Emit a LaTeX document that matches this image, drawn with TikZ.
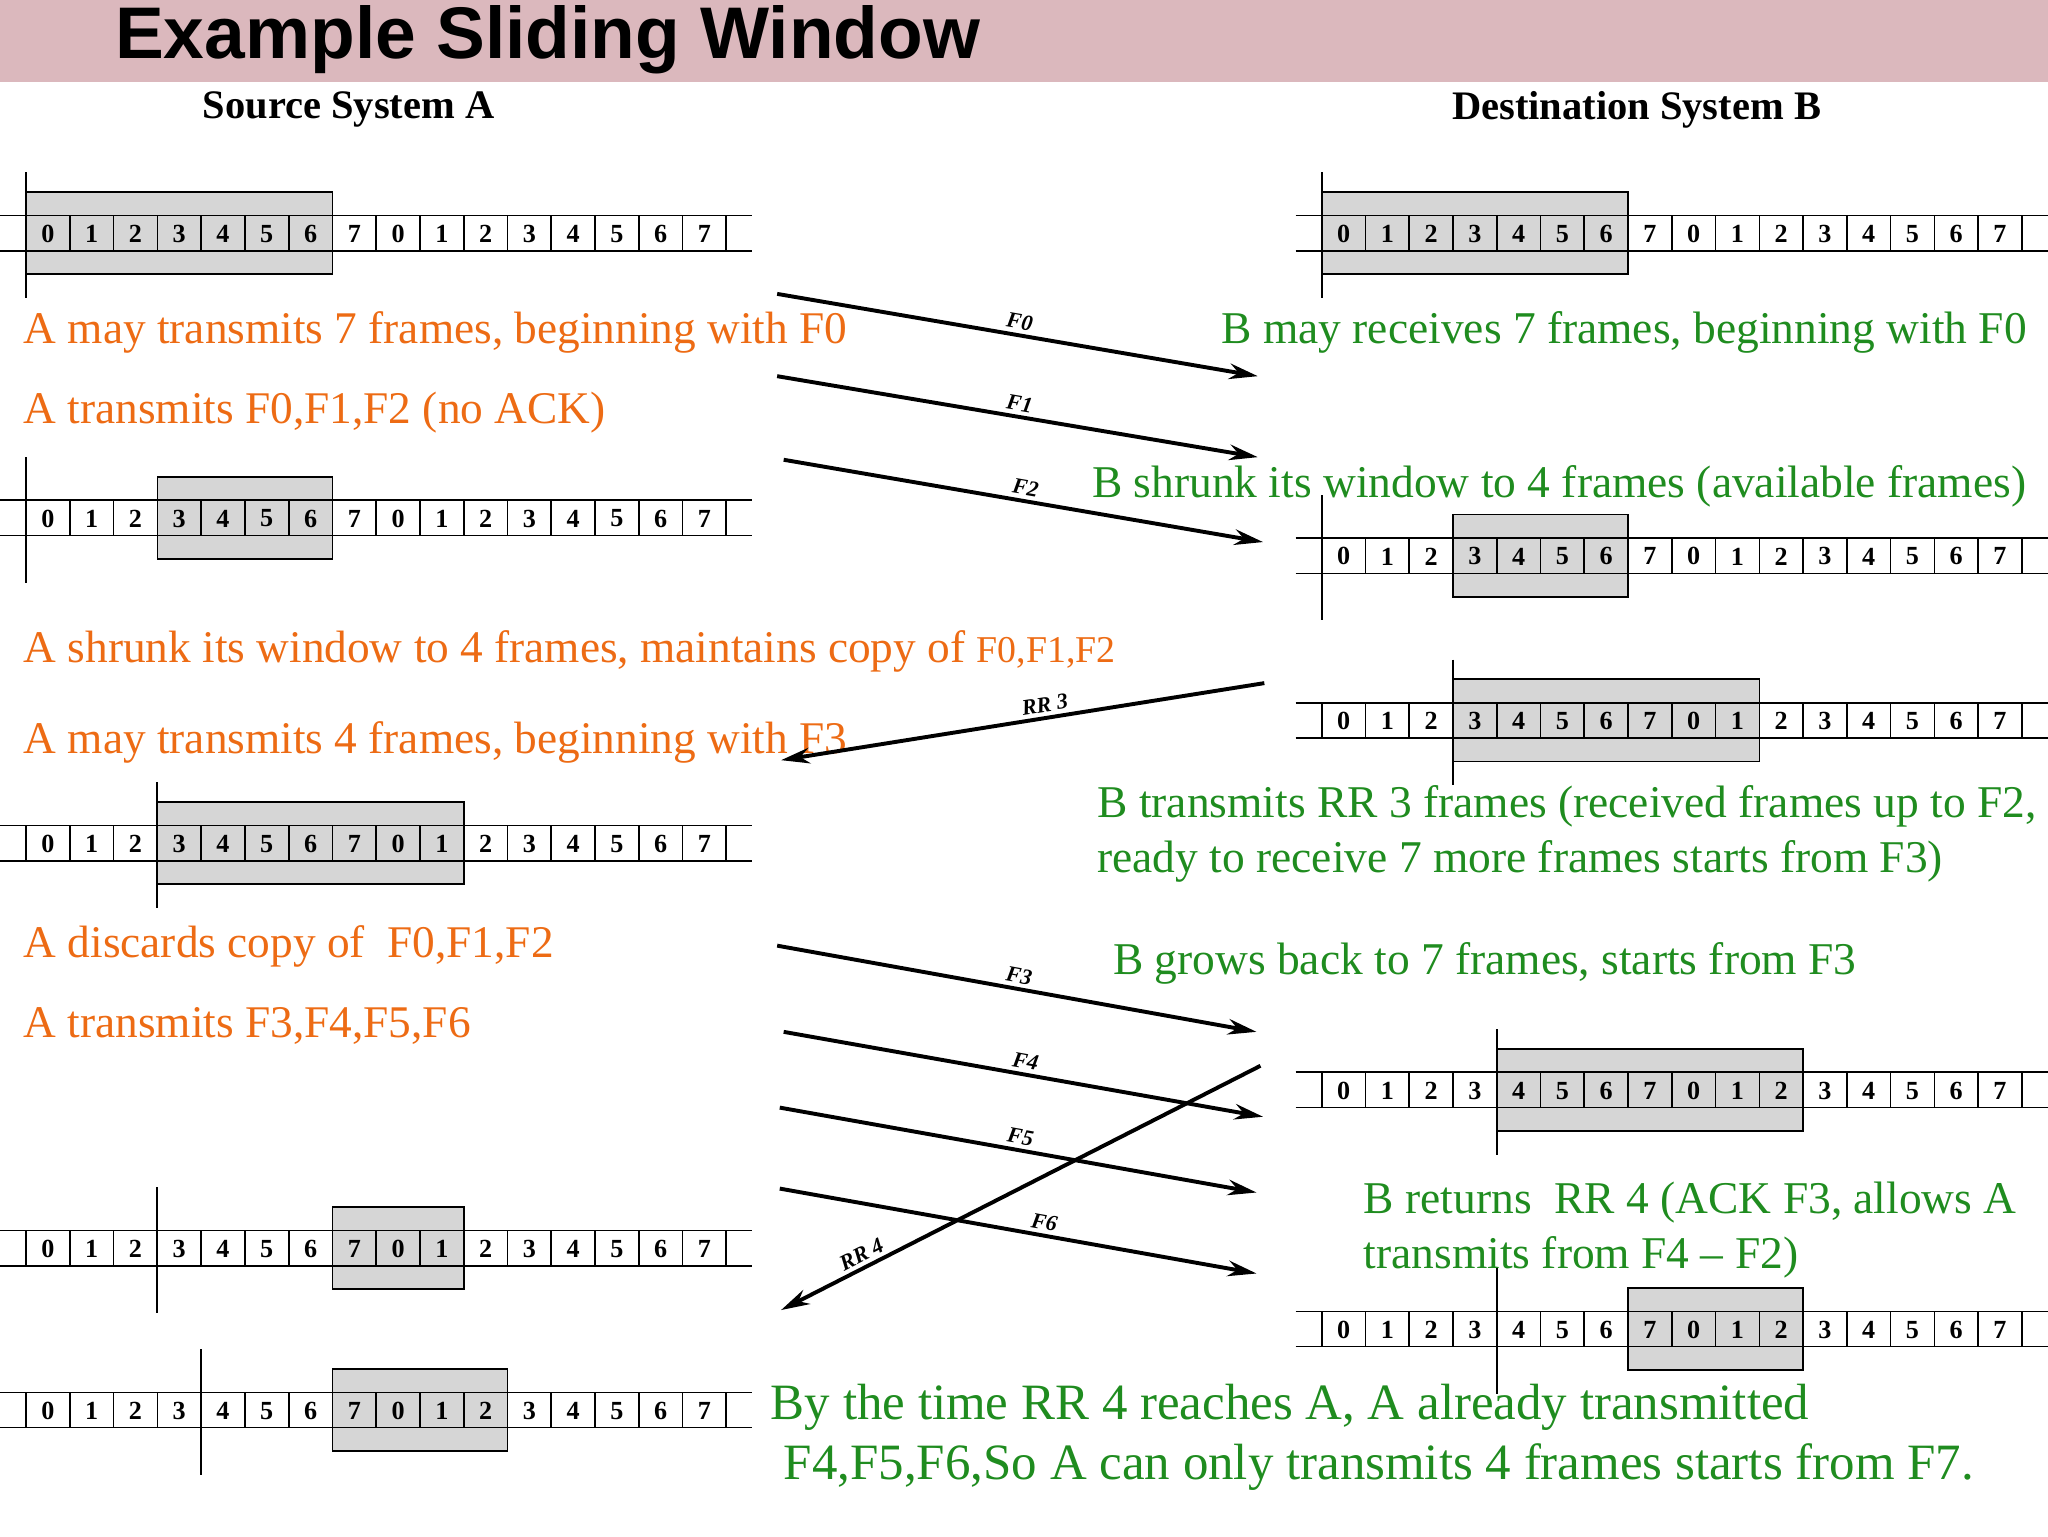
\documentclass[tikz,border=0pt]{standalone}
\usepackage{fontspec}
\setmainfont{Liberation Serif}
\setsansfont{Liberation Sans}
\usetikzlibrary{arrows.meta}
\definecolor{ora}{rgb}{0.93,0.42,0.08}
\definecolor{grn}{rgb}{0.12,0.55,0.12}
\definecolor{banner}{rgb}{0.86,0.72,0.74}
\definecolor{win}{rgb}{0.84,0.84,0.84}
\tikzset{
 otxt/.style={anchor=base west,text=ora,font=\fontsize{34.7}{40}\selectfont,inner sep=0},
 gtxt/.style={anchor=base west,text=grn,font=\fontsize{34.8}{40}\selectfont,inner sep=0},
 msg/.style={line width=3pt,-{Stealth[length=22pt,width=12pt]}},
 mlab/.style={midway,above,sloped,font=\fontsize{17}{18}\bfseries\itshape\selectfont,inner sep=3pt},
 digit/.style={font=\fontsize{20}{20}\bfseries\selectfont,inner sep=0}
}
% #1 name #2 x0 #3 y #4 win start #5 win end #6 tick idx
\newcommand{\fstrip}[6]{%
 \fill[win,draw=black,line width=1.3pt] ({#2+#4*33.5},#3-31) rectangle ({#2+#5*33.5},#3+32);
 \draw[line width=1.3pt] ({#2-20},#3-13) -- ({#2+16*33.5+20},#3-13);
 \draw[line width=1.3pt] ({#2-20},#3+14) -- ({#2+16*33.5+20},#3+14);
 \foreach \k in {0,...,16}{\draw[line width=1.3pt] ({#2+\k*33.5},#3-13) -- ({#2+\k*33.5},#3+14);}
 \foreach \k [evaluate=\k as \lab using {int(mod(\k,8))}] in {0,...,15}{
   \node[digit] (#1c\k) at ({#2+\k*33.5+16.75},#3+1) {\lab};}
 \draw[line width=1.5pt] ({#2+#6*33.5},#3-46) -- ({#2+#6*33.5},#3+50);
}
\begin{document}
\begin{tikzpicture}[x=1pt,y=-1pt]
\useasboundingbox (0,0) rectangle (1568,1176);
\fill[banner] (0,0) rectangle (1568,63);
\node[anchor=base west,font=\fontsize{56}{56}\sffamily\bfseries\selectfont,inner sep=0] (title) at (88,45) {Example Sliding Window};
\node[font=\fontsize{31}{31}\bfseries\selectfont] (srcA) at (267,84) {Source System A};
\node[font=\fontsize{31}{31}\bfseries\selectfont] (dstB) at (1253,84) {Destination System B};

\fstrip{a1}{20}{178}{0}{7}{0}
\fstrip{a2}{20}{396}{3}{7}{0}
\fstrip{a3}{20}{645}{3}{10}{3}
\fstrip{a4}{20}{955}{7}{10}{3}
\fstrip{a5}{20}{1079}{7}{11}{4}
\fstrip{b1}{1012}{178}{0}{7}{0}
\fstrip{b2}{1012}{425}{3}{7}{0}
\fstrip{b3}{1012}{551}{3}{10}{3}
\fstrip{b4}{1012}{834}{4}{11}{4}
\fstrip{b5}{1012}{1017}{7}{11}{4}

\node[otxt] (t1) at (18,263) {A may transmits 7 frames, beginning with F0};
\node[otxt] (t2) at (18,324) {A transmits F0,F1,F2 (no ACK)};
\node[otxt] (t3) at (18,507) {A shrunk its window to 4 frames, maintains copy of {\fontsize{29}{33}\selectfont F0,F1,F2}};
\node[otxt] (t4) at (18,577) {A may transmits 4 frames, beginning with F3};
\node[otxt] (t5) at (18,733) {A discards copy of~~F0,F1,F2};
\node[otxt] (t6) at (18,794) {A transmits F3,F4,F5,F6};

\node[gtxt] (g1) at (935,263) {B may receives 7 frames, beginning with F0};
\node[gtxt] (g2) at (836,381) {B shrunk its window to 4 frames (available frames)};
\node[gtxt] (g3) at (840,626) {B transmits RR 3 frames (received frames up to F2,};
\node[gtxt] (g4) at (840,668) {ready to receive 7 more frames starts from F3)};
\node[gtxt] (g5) at (852,746) {B grows back to 7 frames, starts from F3};
\node[gtxt] (g6) at (1044,929) {B returns~~RR 4 (ACK F3, allows A};
\node[gtxt] (g7) at (1044,971) {transmits from F4 -- F2)};
\node[gtxt,font=\fontsize{39}{44}\selectfont] (g8) at (590,1087) {By the time RR 4 reaches A, A already transmitted};
\node[gtxt,font=\fontsize{39}{44}\selectfont] (g9) at (600,1133) {F4,F5,F6,So A can only transmits 4 frames starts from F7.};

\coordinate (s0) at (595,225); \coordinate (e0) at (963,288);
\coordinate (s1) at (595,288); \coordinate (e1) at (963,350);
\coordinate (s2) at (600,352); \coordinate (e2) at (967,415);
\coordinate (s3) at (968,523); \coordinate (e3) at (598,582);
\coordinate (s4) at (595,724); \coordinate (e4) at (962,790);
\coordinate (s5) at (600,790); \coordinate (e5) at (967,855);
\coordinate (s6) at (597,848); \coordinate (e6) at (962,913);
\coordinate (s7) at (597,910); \coordinate (e7) at (962,975);
\coordinate (s8) at (965,816); \coordinate (e8) at (598,1003);
\draw[msg] (s0) -- (e0) node[mlab] {F0};
\draw[msg] (s1) -- (e1) node[mlab] {F1};
\draw[msg] (s2) -- (e2) node[mlab] {F2};
\draw[msg] (s3) -- (e3) node[mlab,pos=0.45] {RR 3};
\draw[msg] (s4) -- (e4) node[mlab] {F3};
\draw[msg] (s5) -- (e5) node[mlab] {F4};
\draw[msg] (s6) -- (e6) node[mlab] {F5};
\draw[msg] (s7) -- (e7) node[mlab,pos=0.55] {F6};
\draw[msg] (s8) -- (e8) node[mlab,pos=0.82] {RR 4};
\end{tikzpicture}
\end{document}
